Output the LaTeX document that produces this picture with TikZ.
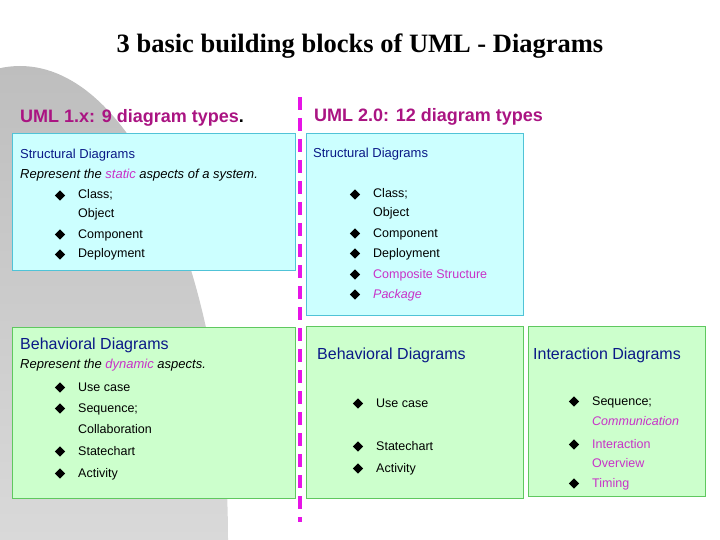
\documentclass[tikz,border=0pt]{standalone}
\usepackage{fontspec}
\setmainfont{Liberation Sans}
\newfontfamily\titlefont{Liberation Serif}
\usetikzlibrary{shapes.geometric}
\definecolor{navy}{RGB}{10,25,135}
\definecolor{itemmag}{RGB}{200,50,200}
\definecolor{headmag}{RGB}{170,20,130}
\definecolor{cyanfill}{RGB}{204,255,255}
\definecolor{cyanline}{RGB}{80,195,215}
\definecolor{greenfill}{RGB}{204,255,204}
\definecolor{greenline}{RGB}{95,200,95}
\definecolor{dashmag}{RGB}{230,20,230}
\definecolor{graytop}{RGB}{190,190,190}
\definecolor{graybot}{RGB}{244,244,244}
\begin{document}
\begin{tikzpicture}[x=1pt,y=-1pt,
  cbox/.style={draw=cyanline, fill=cyanfill, line width=1.1pt, anchor=north west, inner sep=0pt},
  gbox/.style={draw=greenline, fill=greenfill, line width=1.1pt, anchor=north west, inner sep=0pt},
  item/.style={anchor=base west, inner sep=0pt, font=\fontsize{12.5}{15}\selectfont},
  mitem/.style={item, text=itemmag},
  shead/.style={anchor=base west, inner sep=0pt, text=navy, font=\fontsize{13}{15}\selectfont},
  bhead/.style={anchor=base west, inner sep=0pt, text=navy, font=\fontsize{16}{19}\selectfont},
  desc/.style={anchor=base west, inner sep=0pt, font=\fontsize{13}{15}\selectfont\itshape},
  uhead/.style={anchor=base west, inner sep=0pt, text=headmag, font=\fontsize{18}{21}\selectfont\bfseries},
  bul/.style={diamond, fill=black, inner sep=0pt, minimum width=10.5pt, minimum height=10.5pt},
  sep/.style={draw=dashmag, line width=4pt, dash pattern=on 13pt off 8pt}
]
\useasboundingbox (0,0) rectangle (720,540);
\begin{scope}
  \clip (0,0) rectangle (720,540);
  \shade[top color=graytop, bottom color=graybot] (20,540) ellipse [x radius=208pt, y radius=474pt];
\end{scope}

% title
\node[anchor=base, inner sep=0pt, font=\titlefont\fontsize{26.5}{30}\selectfont\bfseries] (title) at (360,53) {3 basic building blocks of UML - Diagrams};

% column headers
\node[uhead] (h1) at (20,123) {UML 1.x: 9 diagram types\textcolor{black}{.}};
\node[uhead] (h2) at (314,122) {UML 2.0: 12 diagram types};

% separator
\coordinate (septop) at (300,97);
\coordinate (sepbot) at (300,522);
\draw[sep] (septop) -- (sepbot);

% boxes
\node[cbox, minimum width=283pt, minimum height=137pt] (s1) at (12,133) {};
\node[gbox, minimum width=283pt, minimum height=171pt] (b1) at (12,327) {};
\node[cbox, minimum width=217pt, minimum height=182pt] (s2) at (306,133) {};
\node[gbox, minimum width=217pt, minimum height=172pt] (b2) at (306,326) {};
\node[gbox, minimum width=177pt, minimum height=170pt] (i2) at (528,326) {};

% left structural
\node[shead] (s1h) at (20,159) {Structural Diagrams};
\node[desc] (s1d) at (20,179) {Represent the \textcolor{itemmag}{static} aspects of a system.};
\node[bul] (s1b1) at (60,195.5) {};
\node[item] (s1t1) at (78,199) {Class;};
\node[item] (s1t1b) at (78,218) {Object};
\node[bul] (s1b2) at (60,234.5) {};
\node[item] (s1t2) at (78,238) {Component};
\node[bul] (s1b3) at (60,254.5) {};
\node[item] (s1t3) at (78,258) {Deployment};

% left behavioral
\node[bhead] (b1h) at (20,349) {Behavioral Diagrams};
\node[desc] (b1d) at (20,368) {Represent the \textcolor{itemmag}{dynamic} aspects.};
\node[bul] (b1b1) at (60,387.5) {};
\node[item] (b1t1) at (78,391) {Use case};
\node[bul] (b1b2) at (60,408.5) {};
\node[item] (b1t2) at (78,412) {Sequence;};
\node[item] (b1t2b) at (78,433) {Collaboration};
\node[bul] (b1b3) at (60,451.5) {};
\node[item] (b1t3) at (78,455) {Statechart};
\node[bul] (b1b4) at (60,473.5) {};
\node[item] (b1t4) at (78,477) {Activity};

% middle structural
\node[shead] (s2h) at (313,158) {Structural Diagrams};
\node[bul] (s2b1) at (355,194.5) {};
\node[item] (s2t1) at (373,198) {Class;};
\node[item] (s2t1b) at (373,217) {Object};
\node[bul] (s2b2) at (355,233.5) {};
\node[item] (s2t2) at (373,237) {Component};
\node[bul] (s2b3) at (355,253.5) {};
\node[item] (s2t3) at (373,257) {Deployment};
\node[bul] (s2b4) at (355,274.5) {};
\node[mitem] (s2t4) at (373,278) {Composite Structure};
\node[bul] (s2b5) at (355,294.5) {};
\node[mitem, font=\fontsize{12.5}{15}\selectfont\itshape] (s2t5) at (373,298) {Package};

% middle behavioral
\node[bhead] (b2h) at (317,359) {Behavioral Diagrams};
\node[bul] (b2b1) at (358,403.5) {};
\node[item] (b2t1) at (376,407) {Use case};
\node[bul] (b2b2) at (358,446.5) {};
\node[item] (b2t2) at (376,450) {Statechart};
\node[bul] (b2b3) at (358,468.5) {};
\node[item] (b2t3) at (376,472) {Activity};

% right interaction
\node[bhead] (i2h) at (533,359) {Interaction Diagrams};
\node[bul] (i2b1) at (574,401.5) {};
\node[item] (i2t1) at (592,405) {Sequence;};
\node[mitem, font=\fontsize{12.5}{15}\selectfont\itshape] (i2t1b) at (592,425) {Communication};
\node[bul] (i2b2) at (574,444.5) {};
\node[mitem] (i2t2) at (592,448) {Interaction};
\node[mitem] (i2t2b) at (592,467) {Overview};
\node[bul] (i2b3) at (574,483.5) {};
\node[mitem] (i2t3) at (592,487) {Timing};
\end{tikzpicture}
\end{document}
